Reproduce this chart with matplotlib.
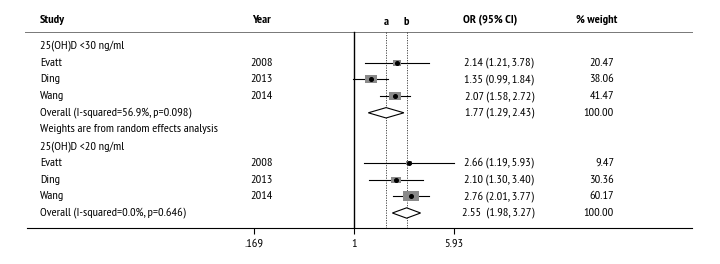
import numpy as np
import matplotlib
matplotlib.use("Agg")
import matplotlib.pyplot as plt
from matplotlib.path import Path
import matplotlib.transforms as mtransforms
from matplotlib import font_manager as fm

# ---- data ----
group_labels = ["25(OH)D <30 ng/ml", "25(OH)D <20 ng/ml"]
studies = ["Evatt", "Ding", "Wang"]
years = ["2008", "2013", "2014"]
or_g1 = [2.14, 1.35, 2.07]
lo_g1 = [1.21, 0.99, 1.58]
hi_g1 = [3.78, 1.84, 2.72]
w_g1 = [20.47, 38.06, 41.47]
or_g2 = [2.66, 2.10, 2.76]
lo_g2 = [1.19, 1.30, 2.01]
hi_g2 = [5.93, 3.40, 3.77]
w_g2 = [9.47, 30.36, 60.17]
overall_or = [1.77, 2.55]
overall_lo = [1.29, 1.98]
overall_hi = [2.43, 3.27]
overall_labels = ["Overall (I-squared=56.9%, p=0.098)", "Overall (I-squared=0.0%, p=0.646)"]
overall_text = ["1.77 (1.29, 2.43)", "2.55  (1.98, 3.27)"]
weights_note = "Weights are from random effects analysis"
xticks = [0.169, 1, 5.93]
xtick_labels = [".169", "1", "5.93"]
ref_labels = ["a", "b"]

W, H = 720, 264
fig = plt.figure(figsize=(W / 100, H / 100), dpi=100)

# choose a condensed humanist font close to the reference look
available = set(f.name for f in fm.fontManager.ttflist)
candidates = ['Fira Sans Extra Condensed', 'Fira Sans Condensed', 'Roboto Condensed',
              'Barlow Semi Condensed', 'Encode Sans Condensed', 'IBM Plex Sans Condensed',
              'Asap Condensed', 'PT Sans Narrow', 'Archivo Narrow']
target_w, target_fs = 152.0, 8.7
best, best_err, best_w = 'DejaVu Sans', 1e9, None
for cand in candidates:
    if cand not in available:
        continue
    probe = fig.text(0, 0, overall_labels[0], fontsize=target_fs, family=cand)
    fig.canvas.draw()
    wpx = probe.get_window_extent().width
    probe.remove()
    err = abs(wpx - target_w)
    if err < best_err:
        best, best_err, best_w = cand, err, wpx
family = best
plt.rcParams['font.family'] = [family, 'DejaVu Sans']
fs = target_fs if best_w is None else float(np.clip(target_fs * target_w / best_w, 7.8, 9.5))

row_px0, row_dy = 46.0, 16.7
def px2row(p):
    return (p - row_px0) / row_dy

ax_left, ax_right, ax_top, ax_bot = 27, 692, 10, 228
ax = fig.add_axes([ax_left / W, 1 - ax_bot / H, (ax_right - ax_left) / W, (ax_bot - ax_top) / H])
ax.set_xscale('log')
scale = 1.78 / 100.0
ax.set_xlim(np.exp((ax_left - 354) * scale), np.exp((ax_right - 354) * scale))
ax.set_ylim(px2row(ax_bot), px2row(ax_top))
for s in ['top', 'left', 'right']:
    ax.spines[s].set_visible(False)
ax.spines['bottom'].set_linewidth(0.8)
ax.set_xticks(xticks)
ax.set_xticklabels(xtick_labels, family=family)
ax.xaxis.set_minor_locator(matplotlib.ticker.NullLocator())
ax.tick_params(axis='x', direction='out', length=4, width=0.8, labelsize=fs, pad=4)
ax.set_yticks([])

tr = mtransforms.blended_transform_factory(fig.transFigure, ax.transData)
def fx(p):
    return p / W

top_row = px2row(31.5)
header_row = px2row(20)
ax.plot([fx(25), fx(692)], [top_row, top_row], transform=tr, color='#777777', lw=0.7, clip_on=False)

ax.text(fx(40), header_row, "Study", transform=tr, fontsize=fs, fontweight='bold', va='center')
ax.text(fx(252), header_row, "Year", transform=tr, fontsize=fs, fontweight='bold', va='center')
ax.text(fx(463), header_row, "OR (95% CI)", transform=tr, fontsize=fs, fontweight='bold', va='center')
ax.text(fx(576), header_row, "% weight", transform=tr, fontsize=fs, fontweight='bold', va='center')

ybot = px2row(ax_bot)
ax.plot([1, 1], [top_row, ybot], color='black', lw=1.0)
for v, lab in zip(overall_or, ref_labels):
    ax.plot([v, v], [top_row, ybot], color='#333333', lw=0.6, ls=(0, (1.5, 1.5)))
    ax.text(v, px2row(22), lab, fontsize=fs, fontweight='bold', ha='center', va='center')

rect = Path([(-1.0, -0.65), (1.0, -0.65), (1.0, 0.65), (-1.0, 0.65), (-1.0, -0.65)],
            [Path.MOVETO, Path.LINETO, Path.LINETO, Path.LINETO, Path.CLOSEPOLY])

groups = [(or_g1, lo_g1, hi_g1, w_g1), (or_g2, lo_g2, hi_g2, w_g2)]
row = 0
for gi, (ors, los, his, ws) in enumerate(groups):
    ax.text(fx(40), row, group_labels[gi], transform=tr, fontsize=fs, va='center')
    row += 1
    for k in range(len(studies)):
        ax.text(fx(40), row, studies[k], transform=tr, fontsize=fs, va='center')
        ax.text(fx(250), row, years[k], transform=tr, fontsize=fs, va='center')
        ax.text(fx(534), row, f"{ors[k]:.2f} ({los[k]:.2f}, {his[k]:.2f})", transform=tr,
                fontsize=fs, va='center', ha='right')
        ax.text(fx(614), row, f"{ws[k]:.2f}", transform=tr, fontsize=fs, va='center', ha='right')
        ax.plot([los[k], his[k]], [row, row], color='black', lw=0.8, zorder=2)
        size_px = 1.95 * np.sqrt(ws[k])
        ax.plot([ors[k]], [row], marker=rect, markersize=size_px * 0.72, color='#8a8a8a',
                markeredgewidth=0, zorder=3)
        ax.plot([ors[k]], [row], marker='o', markersize=2.6, color='black', zorder=4)
        row += 1
    o, l, h = overall_or[gi], overall_lo[gi], overall_hi[gi]
    dh = 0.31
    ax.fill([l, o, h, o, l], [row, row - dh, row, row + dh, row], facecolor='white',
            edgecolor='black', lw=0.8, zorder=3)
    ax.text(fx(40), row, overall_labels[gi], transform=tr, fontsize=fs, va='center')
    ax.text(fx(534), row, overall_text[gi], transform=tr, fontsize=fs, va='center', ha='right')
    ax.text(fx(614), row, "100.00", transform=tr, fontsize=fs, va='center', ha='right')
    row += 1
    if gi == 0:
        ax.text(fx(40), row, weights_note, transform=tr, fontsize=fs, va='center')
        row += 1

fig.savefig("out.png", dpi=100)
